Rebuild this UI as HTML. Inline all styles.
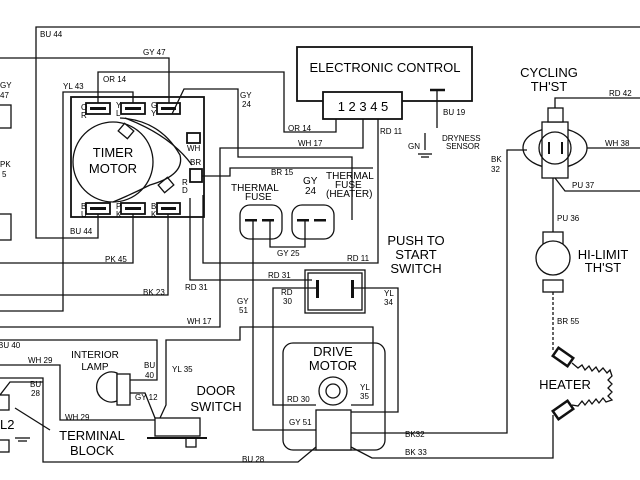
<!DOCTYPE html>
<html><head><meta charset="utf-8"><style>
html,body{margin:0;padding:0;background:#fff}
svg{display:block}
text{font-family:"Liberation Sans",sans-serif;fill:#000}
.s{font-size:8px}
.m{font-size:10px}
.b{font-size:13px}
</style></head><body>
<svg width="640" height="480" viewBox="0 0 640 480" xmlns="http://www.w3.org/2000/svg">
<g fill="none" stroke="#111" stroke-width="1.3">
<polyline points="640,27 36,27 36,238 98,238 98,214"/>
<polyline points="0,58 169,58 169,103"/>
<polyline points="98,103 98,72 284,72 284,132 336,132 336,118"/>
<polyline points="133,103 133,92 63,92 63,311 0,311"/>
<path d="M172,114 L184,89 L238,89 L238,157 L352,157 L352,220"/>
<polyline points="0,327 220,327 220,148 363,148 363,118"/>
<polyline points="202,176 230,176 230,168 373,168"/>
<polyline points="378,118 378,263 203,263 203,195"/>
<polyline points="190,198 190,280 312,280"/>
<polyline points="133,214 133,263 0,263"/>
<polyline points="168,214 168,295 0,295"/>
<rect x="240" y="205" width="42" height="34" rx="10"/>
<rect x="292" y="205" width="42" height="34" rx="10"/>
<polyline points="270,220 270,247 305,247 305,220"/>
<polyline points="253,220 253,430 316,430"/>
<rect x="305" y="270" width="60" height="43"/>
<rect x="308" y="273" width="54" height="37"/>
<polyline points="352,288 398,288 398,412 351,412"/>
<polyline points="318,288 273,288 273,405 316,405"/>
<polyline points="160,418 166,405 166,340 240,340 240,327 373,327 373,405 351,405"/>
<rect x="283" y="343" width="102" height="107" rx="10"/>
<circle cx="333" cy="391" r="14"/><circle cx="333" cy="391" r="7"/>
<rect x="316" y="410" width="35" height="40" fill="#fff"/>
<polyline points="351,433 507,433 507,150 527,150"/>
<polyline points="351,447 372,458 553,458 553,415"/>
<polyline points="316,447 298,462 43,462 43,378 0,378"/>
<polyline points="0,340 157,340 157,380 130,380"/>
<polyline points="0,365 60,365 60,420 155,420"/>
<polyline points="130,393 145,393 155,418"/>
<path d="M117,373 A15,15 0 1 0 117,401 Z"/>
<rect x="117" y="374" width="13" height="31" fill="#fff"/>
<rect x="155" y="418" width="45" height="18"/>
<line x1="147" y1="438" x2="207" y2="438" stroke-width="2"/>
<rect x="186" y="438" width="10" height="9"/>
<rect x="-5" y="395" width="14" height="15"/><rect x="-5" y="440" width="14" height="12"/>
<line x1="15" y1="408" x2="50" y2="430"/>
<polyline points="0,395 10,382 43,382"/>
<line x1="15" y1="438" x2="30" y2="438"/><line x1="18" y1="441" x2="27" y2="441"/>
<rect x="-5" y="105" width="16" height="23"/><rect x="-5" y="214" width="16" height="26"/>
<rect x="71" y="97" width="133" height="120" stroke-width="1.8"/>
<circle cx="113" cy="162" r="40"/>
<path d="M120,118 Q160,120 180,155 Q185,175 150,185 Q130,195 113,202"/>
<path d="M125,118 Q170,135 192,165"/>
<rect x="120" y="126" width="12" height="10" transform="rotate(40 126 131)"/>
<rect x="160" y="180" width="12" height="10" transform="rotate(-40 166 185)"/>
<g stroke-width="1.8">
<rect x="86" y="103" width="24" height="11"/><rect x="121" y="103" width="24" height="11"/><rect x="157" y="103" width="23" height="11"/>
<rect x="86" y="203" width="24" height="11"/><rect x="121" y="203" width="24" height="11"/><rect x="157" y="203" width="23" height="11"/>
<rect x="187" y="133" width="13" height="10"/><rect x="190" y="169" width="12" height="13"/>
</g>
<rect x="297" y="47" width="175" height="54" stroke-width="1.8"/>
<rect x="323" y="92" width="79" height="27" fill="#fff" stroke-width="1.8"/>
<line x1="430" y1="90" x2="445" y2="90" stroke-width="2.5"/>
<polyline points="437,90 437,128"/>
<line x1="425" y1="133" x2="425" y2="150"/>
<line x1="418" y1="154" x2="432" y2="154"/><line x1="421" y1="157" x2="429" y2="157"/>
<polyline points="555,118 555,98 640,98"/>
<ellipse cx="555" cy="148" rx="32" ry="20"/>
<rect x="542" y="122" width="26" height="56" fill="#fff"/>
<circle cx="555" cy="148" r="16"/>
<rect x="548" y="108" width="15" height="14" fill="#fff"/>
<line x1="549" y1="142" x2="549" y2="154" stroke-width="2"/><line x1="562" y1="142" x2="562" y2="154" stroke-width="2"/>
<line x1="587" y1="148" x2="640" y2="148"/>
<polyline points="555,178 565,191 640,191"/>
<line x1="553" y1="178" x2="553" y2="232"/>
<rect x="543" y="232" width="20" height="12"/>
<circle cx="553" cy="258" r="17" fill="#fff"/>
<rect x="543" y="280" width="20" height="12"/>
<line x1="553" y1="292" x2="553" y2="352" stroke-dasharray="3,2"/>
<rect x="554" y="352" width="18" height="10" transform="rotate(35 563 357)" stroke-width="2.5"/>
<rect x="554" y="405" width="18" height="10" transform="rotate(-35 563 410)" stroke-width="2.5"/>
<polyline points="572,363 578,368 582,365 585,370 589,366 592,371 596,367 599,372 603,368 607,373 610,370 612,376 608,380 612,384 608,388 612,392 608,396 612,400 606,402 603,398 599,403 596,399 592,404 589,400 585,405 582,401 578,406 572,405"/>
</g>
<g fill="#111">
<rect x="90" y="107" width="16" height="3"/><rect x="125" y="107" width="16" height="3"/><rect x="161" y="107" width="15" height="3"/>
<rect x="90" y="207" width="16" height="3"/><rect x="125" y="207" width="16" height="3"/><rect x="161" y="207" width="15" height="3"/>
<rect x="245" y="219" width="12" height="2.5"/><rect x="262" y="219" width="12" height="2.5"/>
<rect x="297" y="219" width="12" height="2.5"/><rect x="314" y="219" width="12" height="2.5"/>
<rect x="316" y="280" width="3" height="18"/><rect x="351" y="280" width="3" height="18"/>
</g>
<text class="s" x="40" y="37">BU 44</text>
<text class="s" x="143" y="55">GY 47</text>
<text class="s" x="103" y="82">OR 14</text>
<text class="s" x="63" y="89">YL 43</text>
<text class="s" x="240" y="98">GY</text><text class="s" x="242" y="107">24</text>
<text class="s" x="288" y="131">OR 14</text>
<text class="s" x="298" y="146">WH 17</text>
<text class="s" x="271" y="175">BR 15</text>
<text class="s" x="70" y="234">BU 44</text>
<text class="s" x="105" y="262">PK 45</text>
<text class="s" x="143" y="295">BK 23</text>
<text class="s" x="185" y="290">RD 31</text>
<text class="s" x="187" y="324">WH 17</text>
<text class="s" x="237" y="304">GY</text><text class="s" x="239" y="313">51</text>
<text class="s" x="277" y="256">GY 25</text>
<text class="s" x="347" y="261">RD 11</text>
<text class="s" x="268" y="278">RD 31</text>
<text class="s" x="281" y="295">RD</text><text class="s" x="283" y="304">30</text>
<text class="s" x="384" y="296">YL</text><text class="s" x="384" y="305">34</text>
<text class="s" x="380" y="134">RD 11</text>
<text class="s" x="443" y="115">BU 19</text>
<text class="s" x="442" y="141">DRYNESS</text><text class="s" x="446" y="149">SENSOR</text>
<text class="s" x="408" y="149">GN</text>
<text class="s" x="609" y="96">RD 42</text>
<text class="s" x="605" y="146">WH 38</text>
<text class="s" x="572" y="188">PU 37</text>
<text class="s" x="557" y="221">PU 36</text>
<text class="s" x="491" y="162">BK</text><text class="s" x="491" y="172">32</text>
<text class="s" x="557" y="324">BR 55</text>
<text class="s" x="405" y="437">BK32</text>
<text class="s" x="405" y="455">BK 33</text>
<text class="s" x="242" y="462">BU 28</text>
<text class="s" x="287" y="402">RD 30</text>
<text class="s" x="289" y="425">GY 51</text>
<text class="s" x="360" y="390">YL</text><text class="s" x="360" y="399">35</text>
<text class="s" x="-2" y="348">BU 40</text>
<text class="s" x="28" y="363">WH 29</text>
<text class="s" x="30" y="387">BU</text><text class="s" x="31" y="396">28</text>
<text class="s" x="65" y="420">WH 29</text>
<text class="s" x="144" y="368">BU</text><text class="s" x="145" y="378">40</text>
<text class="s" x="172" y="372">YL 35</text>
<text class="s" x="135" y="400">GY 12</text>
<text class="s" x="0" y="88">GY</text><text class="s" x="0" y="98">47</text>
<text class="s" x="0" y="167">PK</text><text class="s" x="2" y="177">5</text>
<text class="s" x="187" y="151">WH</text><text class="s" x="190" y="165">BR</text>
<g class="s">
<text x="81" y="110">O</text><text x="81" y="118">R</text>
<text x="116" y="108">Y</text><text x="116" y="116">L</text>
<text x="151" y="108">G</text><text x="151" y="116">Y</text>
<text x="81" y="209">B</text><text x="81" y="217">U</text>
<text x="116" y="209">P</text><text x="116" y="217">K</text>
<text x="151" y="209">B</text><text x="151" y="217">K</text>
<text x="182" y="185">R</text><text x="182" y="193">D</text>
</g>
<text class="m" x="231" y="191">THERMAL</text><text class="m" x="245" y="200">FUSE</text>
<text class="m" x="303" y="184">GY</text><text class="m" x="305" y="194">24</text>
<text class="m" x="326" y="179">THERMAL</text><text class="m" x="335" y="188">FUSE</text><text class="m" x="326" y="197">(HEATER)</text>
<text class="b" x="113" y="157" text-anchor="middle">TIMER</text>
<text class="b" x="113" y="173" text-anchor="middle">MOTOR</text>
<text class="b" x="385" y="72" text-anchor="middle">ELECTRONIC CONTROL</text>
<text class="b" x="363" y="111" text-anchor="middle">1 2 3 4 5</text>
<text class="b" x="549" y="77" text-anchor="middle">CYCLING</text>
<text class="b" x="549" y="91" text-anchor="middle">TH'ST</text>
<text class="b" x="416" y="245" text-anchor="middle">PUSH TO</text>
<text class="b" x="416" y="259" text-anchor="middle">START</text>
<text class="b" x="416" y="273" text-anchor="middle">SWITCH</text>
<text class="b" x="603" y="259" text-anchor="middle">HI-LIMIT</text>
<text class="b" x="603" y="272" text-anchor="middle">TH'ST</text>
<text class="b" x="565" y="389" text-anchor="middle">HEATER</text>
<text class="b" x="333" y="356" text-anchor="middle">DRIVE</text>
<text class="b" x="333" y="370" text-anchor="middle">MOTOR</text>
<text class="m" x="95" y="358" text-anchor="middle">INTERIOR</text>
<text class="m" x="95" y="370" text-anchor="middle">LAMP</text>
<text class="b" x="216" y="395" text-anchor="middle">DOOR</text>
<text class="b" x="216" y="411" text-anchor="middle">SWITCH</text>
<text class="b" x="92" y="440" text-anchor="middle">TERMINAL</text>
<text class="b" x="92" y="455" text-anchor="middle">BLOCK</text>
<text class="b" x="0" y="429">L2</text>
</svg>
</body></html>
